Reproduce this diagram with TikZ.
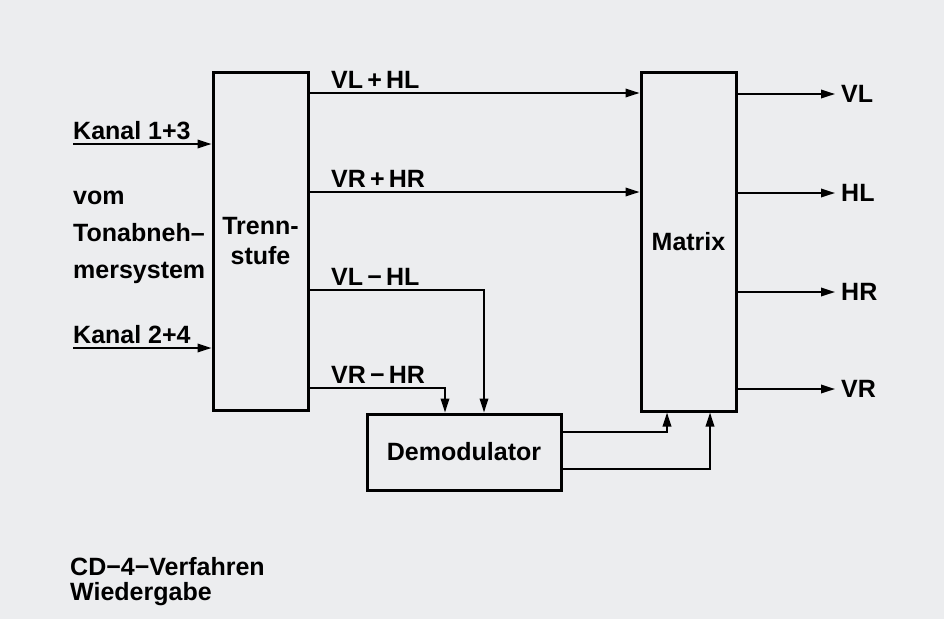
\documentclass[tikz,border=0pt]{standalone}
\usepackage{fontspec}
\setmainfont{Liberation Sans}
\usetikzlibrary{arrows.meta,calc}
\definecolor{bg}{RGB}{236,237,239}
\begin{document}
\begin{tikzpicture}[x=1pt,y=-1pt,
  txt/.style={font=\fontsize{25}{29}\selectfont\bfseries, inner sep=0pt},
  blockbox/.style={draw, line width=3pt, inner sep=0pt, font=\fontsize{25}{30}\selectfont\bfseries, align=center},
  conn/.style={line width=1.8pt, -{Triangle[length=14pt,width=8.5pt]}},
  plain/.style={line width=1.8pt}]
\fill[bg] (0,0) rectangle (944,619);
\useasboundingbox (0,0) rectangle (944,619);

% blocks
\node[blockbox, minimum width=95pt, minimum height=338pt] (T) at (260.5,241) {Trenn-\\stufe};
\node[blockbox, minimum width=95pt, minimum height=339pt] (M) at (688.5,241.5) {Matrix};
\node[blockbox, minimum width=194pt, minimum height=76pt] (D) at (464,452) {Demodulator};

% helper coordinates
\coordinate (k1) at (73,144);
\coordinate (k2) at (73,348);
\coordinate (y1) at (0,93);
\coordinate (y2) at (0,192);
\coordinate (y3) at (0,290);
\coordinate (y4) at (0,388);
\coordinate (x3) at (484,0);
\coordinate (x4) at (445,0);
\coordinate (d1) at (0,432);
\coordinate (d2) at (0,469);
\coordinate (m1) at (667,0);
\coordinate (m2) at (710,0);
\coordinate (oVL) at (835,94);
\coordinate (oHL) at (835,193);
\coordinate (oHR) at (835,292);
\coordinate (oVR) at (835,389);

% inputs
\draw[conn] (k1) -- (T.west |- k1);
\draw[conn] (k2) -- (T.west |- k2);
\node[txt, anchor=base west] (kan1) at (73,139) {Kanal 1+3};
\node[txt, anchor=base west] (kan2) at (73,343) {Kanal 2+4};
\node[txt, anchor=base west] (vom) at (73,204) {vom};
\node[txt, anchor=base west] (ton) at (73,241) {Tonabneh–};
\node[txt, anchor=base west] (mer) at (73,278) {mersystem};

% Trennstufe outputs
\draw[conn] (T.east |- y1) -- (M.west |- y1);
\draw[conn] (T.east |- y2) -- (M.west |- y2);
\draw[conn] (T.east |- y3) -| (x3 |- D.north);
\draw[conn] (T.east |- y4) -| (x4 |- D.north);
\node[txt, anchor=base west] (l1) at (331,88) {VL\,+\,HL};
\node[txt, anchor=base west] (l2) at (331,187) {VR\,+\,HR};
\node[txt, anchor=base west] (l3) at (331,285) {VL\,−\,HL};
\node[txt, anchor=base west] (l4) at (331,383) {VR\,−\,HR};

% Demodulator outputs
\draw[conn] (D.east |- d1) -| (m1 |- M.south);
\draw[conn] (D.east |- d2) -| (m2 |- M.south);

% Matrix outputs
\draw[conn] (M.east |- oVL) -- (oVL);
\draw[conn] (M.east |- oHL) -- (oHL);
\draw[conn] (M.east |- oHR) -- (oHR);
\draw[conn] (M.east |- oVR) -- (oVR);
\node[txt, anchor=west] (tVL) at ($(oVL)+(6,0)$) {VL};
\node[txt, anchor=west] (tHL) at ($(oHL)+(6,0)$) {HL};
\node[txt, anchor=west] (tHR) at ($(oHR)+(6,0)$) {HR};
\node[txt, anchor=west] (tVR) at ($(oVR)+(6,0)$) {VR};

% caption
\node[txt, anchor=base west] (cap1) at (70,575) {CD−4−Verfahren};
\node[txt, anchor=base west] (cap2) at (70,600) {Wiedergabe};
\end{tikzpicture}
\end{document}
